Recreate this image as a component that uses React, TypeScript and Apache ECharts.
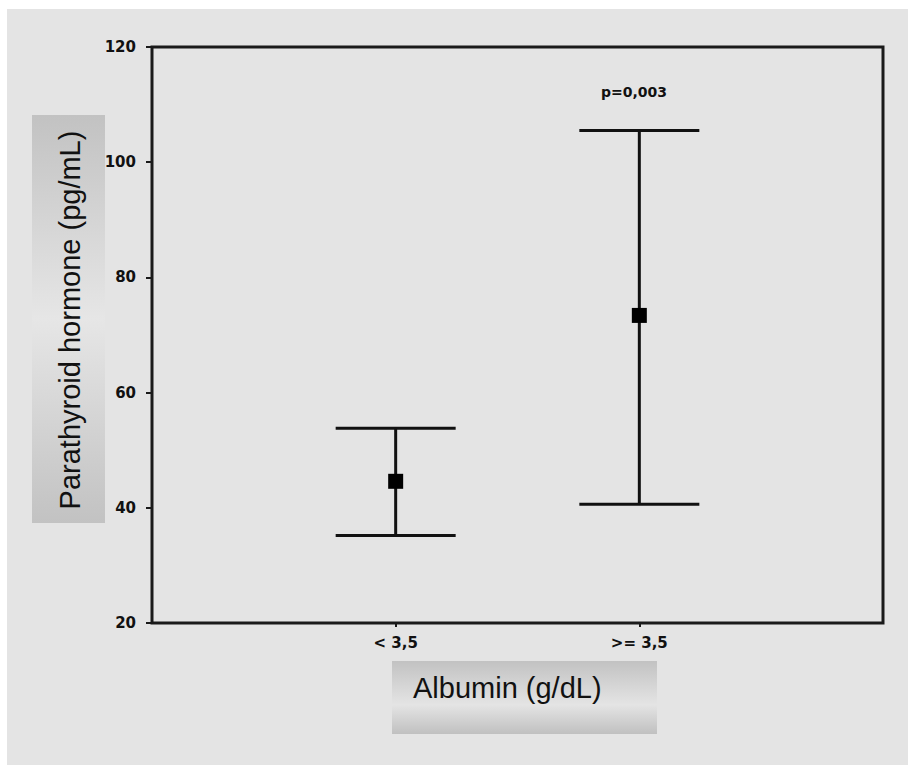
import React, { useEffect, useRef } from "react";
import * as echarts from "echarts";

const categories = ["< 3,5", ">= 3,5"];
const positions = [1, 2];
const means = [44.6, 73.4];
const lower = [35.2, 40.6];
const upper = [53.8, 105.5];
const yTicks = [20, 40, 60, 80, 100, 120];
const pValueText = "p=0,003";
const yTitle = "Parathyroid hormone (pg/mL)";
const xTitle = "Albumin (g/dL)";

const INK = "#111111";
const BG = "#e4e4e4";

export default function App() {
  const ref = useRef<HTMLDivElement>(null);
  useEffect(() => {
    if (!ref.current) return;
    document.body.style.overflow = "hidden";
    document.documentElement.style.background = BG;
    document.body.style.background = BG;
    const chart = echarts.init(ref.current, null, { renderer: "svg" });
    const data = positions.map((p, i) => [p, lower[i], means[i], upper[i]]);
    const boxGrad = (stops: [number, string][]) =>
      new echarts.graphic.LinearGradient(0, 0, 0, 1, stops.map(([offset, color]) => ({ offset, color })));
    chart.setOption({
      animation: false,
      backgroundColor: BG,
      grid: {
        left: 145,
        top: 38,
        right: 37,
        bottom: 147,
        show: true,
        backgroundColor: BG,
        borderColor: "#1a1a1a",
        borderWidth: 3,
      },
      xAxis: {
        type: "value",
        min: 0,
        max: 3,
        interval: 1,
        splitLine: { show: false },
        axisLine: { show: false },
        axisTick: {
          show: true,
          customValues: positions,
          length: 4,
          lineStyle: { color: "#1a1a1a", width: 2 },
        },
        axisLabel: {
          customValues: positions,
          margin: 12,
          color: INK,
          fontFamily: "DejaVu Sans",
          fontWeight: "bold",
          fontSize: 15,
          formatter: (v: number) => {
            const idx = positions.indexOf(v);
            return idx >= 0 ? categories[idx] : "";
          },
        },
      },
      yAxis: {
        type: "value",
        min: yTicks[0],
        max: yTicks[yTicks.length - 1],
        interval: 20,
        splitLine: { show: false },
        axisLine: { show: false },
        axisTick: { show: true, length: 6, lineStyle: { color: "#1a1a1a", width: 2 } },
        axisLabel: {
          margin: 16,
          color: INK,
          fontFamily: "DejaVu Sans",
          fontWeight: "bold",
          fontSize: 15,
        },
      },
      series: [
        {
          type: "custom",
          data,
          encode: { x: 0, y: [1, 2, 3] },
          renderItem: (params: any, api: any) => {
            const x = api.value(0);
            const lo = api.coord([x, api.value(1)]);
            const m = api.coord([x, api.value(2)]);
            const hi = api.coord([x, api.value(3)]);
            const hw = 60;
            const st = { stroke: INK, lineWidth: 3 };
            return {
              type: "group",
              children: [
                { type: "line", shape: { x1: hi[0], y1: hi[1], x2: lo[0], y2: lo[1] }, style: st },
                { type: "line", shape: { x1: hi[0] - hw, y1: hi[1], x2: hi[0] + hw, y2: hi[1] }, style: st },
                { type: "line", shape: { x1: lo[0] - hw, y1: lo[1], x2: lo[0] + hw, y2: lo[1] }, style: st },
                { type: "rect", shape: { x: m[0] - 7.5, y: m[1] - 7.5, width: 15, height: 15 }, style: { fill: "#000" } },
              ],
            };
          },
        },
      ],
      graphic: [
        {
          type: "rect",
          shape: { x: 25, y: 106, width: 73, height: 408 },
          style: {
            fill: boxGrad([
              [0, "#c2c2c2"],
              [0.5, "#e6e6e6"],
              [1, "#c2c2c2"],
            ]),
          },
        },
        {
          type: "text",
          x: 63,
          y: 311,
          rotation: Math.PI / 2,
          style: {
            text: yTitle,
            fill: INK,
            font: "29px 'Liberation Sans', Arial, sans-serif",
            align: "center",
            verticalAlign: "middle",
          },
        },
        {
          type: "rect",
          shape: { x: 385, y: 652, width: 265, height: 73 },
          style: {
            fill: boxGrad([
              [0, "#c2c2c2"],
              [0.6, "#e4e4e4"],
              [1, "#c0c0c0"],
            ]),
          },
        },
        {
          type: "text",
          x: 406,
          y: 679,
          style: {
            text: xTitle,
            fill: INK,
            font: "29px 'Liberation Sans', Arial, sans-serif",
            align: "left",
            verticalAlign: "middle",
          },
        },
        {
          type: "text",
          x: 627,
          y: 83,
          style: {
            text: pValueText,
            fill: INK,
            font: "bold 14px 'DejaVu Sans', sans-serif",
            align: "center",
            verticalAlign: "middle",
          },
        },
      ],
    });
    return () => chart.dispose();
  }, []);
  return (
    <>
      <div style={{ position: "fixed", left: 0, top: 0, width: 7, height: "100%", background: "#ffffff" }} />
      <div style={{ position: "fixed", left: 0, top: 0, width: "100%", height: 9, background: "#ffffff" }} />
      <div
        ref={ref}
        style={{ position: "absolute", left: 7, top: 9, width: 913, height: 761 }}
      />
    </>
  );
}
